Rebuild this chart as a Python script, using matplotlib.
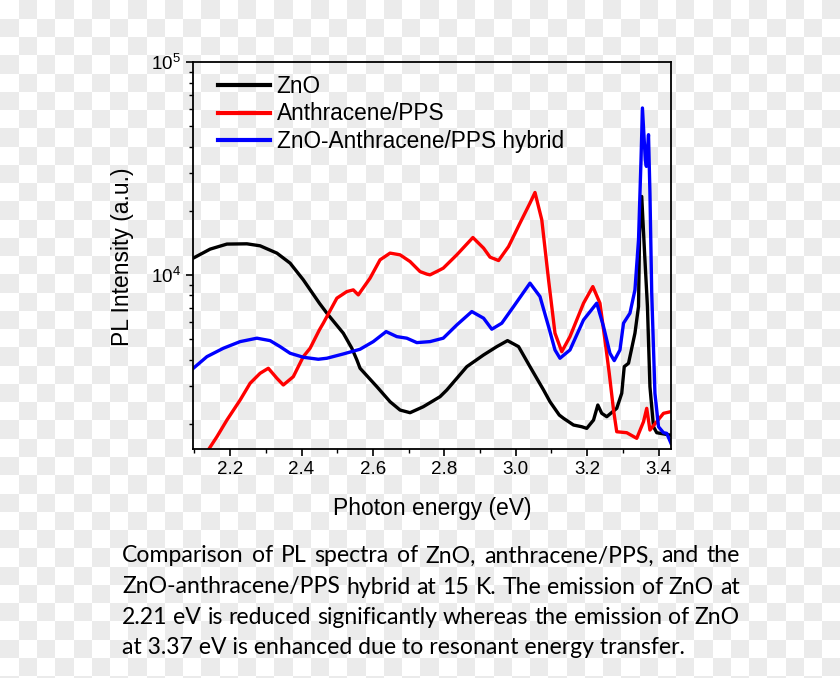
import numpy as np
import matplotlib
matplotlib.use("Agg")
import matplotlib.pyplot as plt
from matplotlib.ticker import LogLocator, MultipleLocator, NullFormatter

# ---------------- data ----------------
zno_e = [2.097, 2.144, 2.191, 2.247, 2.284, 2.331, 2.368, 2.405, 2.450, 2.471,
         2.517, 2.541, 2.555, 2.564, 2.611, 2.648, 2.676, 2.704, 2.741, 2.788,
         2.807, 2.863, 2.910, 2.947, 2.977, 3.008, 3.040, 3.078, 3.096, 3.122,
         3.134, 3.162, 3.185, 3.199, 3.218, 3.230, 3.241, 3.255, 3.283, 3.297,
         3.304, 3.316, 3.334, 3.344, 3.347, 3.353, 3.361, 3.369, 3.376, 3.386,
         3.395, 3.432]
zno_i = [11990, 13210, 13950, 13990, 13690, 12650, 11350, 9475, 7360, 6605,
         5320, 4520, 3985, 3640, 2983, 2535, 2317, 2251, 2401, 2677,
         2878, 3704, 4205, 4600, 4909, 4600, 3704, 2878, 2535, 2195,
         2118, 1970, 1934, 1900, 2079, 2446, 2236, 2156, 2360, 2777,
         3704, 3843, 5320, 7095, 15710, 23350, 12650, 7095, 2983, 1934,
         1813, 1768]

ant_e = [2.124, 2.163, 2.191, 2.228, 2.256, 2.284, 2.307, 2.331, 2.349, 2.377,
         2.405, 2.424, 2.450, 2.461, 2.499, 2.527, 2.545, 2.559, 2.592, 2.620,
         2.648, 2.676, 2.704, 2.732, 2.751, 2.760, 2.788, 2.797, 2.835, 2.880,
         2.910, 2.928, 2.952, 2.980, 3.012, 3.040, 3.054, 3.073, 3.092, 3.110,
         3.129, 3.152, 3.190, 3.216, 3.236, 3.250, 3.262, 3.274, 3.283, 3.311,
         3.339, 3.358, 3.367, 3.376, 3.395, 3.414, 3.434]
ant_i = [1378, 1736, 2079, 2582, 3095, 3448, 3640, 3267, 3038, 3324,
         4128, 4520, 5512, 5928, 7770, 8345, 8500, 8052, 9650, 11765,
         12650, 12420, 11550, 10360, 10080, 10000, 10556, 10750, 12420, 14975,
         13350, 12115, 11675, 13590, 17510, 21740, 24380, 18145, 9475, 5320,
         4357, 5126, 7360, 8810, 7360, 4946, 3448, 2317, 1832, 1813,
         1706, 2042, 2360, 1866, 2042, 2236, 2275]

hyb_e = [2.097, 2.135, 2.181, 2.228, 2.275, 2.312, 2.340, 2.368, 2.405, 2.447,
         2.471, 2.517, 2.564, 2.601, 2.637, 2.667, 2.695, 2.723, 2.760, 2.797,
         2.835, 2.877, 2.910, 2.933, 2.961, 2.994, 3.040, 3.068, 3.092, 3.110,
         3.124, 3.152, 3.190, 3.227, 3.246, 3.264, 3.276, 3.292, 3.302, 3.320,
         3.334, 3.344, 3.351, 3.355, 3.363, 3.366, 3.372, 3.376, 3.381, 3.390,
         3.400, 3.414, 3.423, 3.435]
hyb_i = [3640, 4128, 4520, 4857, 5040, 4909, 4600, 4282, 4101, 4013,
         4057, 4250, 4472, 4857, 5412, 5126, 5040, 4804, 4857, 5040,
         5818, 6722, 6257, 5554, 5928, 7095, 9142, 7906, 5713, 4438,
         4057, 4438, 6143, 7360, 5713, 4282, 3954, 4438, 5928, 6605,
         8500, 14605, 34740, 60800, 34740, 32320, 45550, 24230, 8202, 2777,
         1934, 1813, 1801, 1616]

series_labels = ["ZnO", "Anthracene/PPS", "ZnO-Anthracene/PPS hybrid"]
series_colors = ["#000000", "#ff0000", "#0000ff"]

x_label = "Photon energy (eV)"
y_label = "PL Intensity (a.u.)"
caption_lines = [
    "Comparison of PL spectra of ZnO, anthracene/PPS, and the",
    "ZnO-anthracene/PPS hybrid at 15 K. The emission of ZnO at",
    "2.21 eV is reduced significantly whereas the emission of ZnO",
    "at 3.37 eV is enhanced due to resonant energy transfer.",
]

# ---------------- style ----------------
plt.rcParams["font.family"] = ["Liberation Sans", "DejaVu Sans"]
plt.rcParams["mathtext.fontset"] = "custom"
plt.rcParams["mathtext.rm"] = "Liberation Sans"
plt.rcParams["mathtext.it"] = "Liberation Sans:italic"
plt.rcParams["mathtext.bf"] = "Liberation Sans:bold"

W, H = 840, 678
fig = plt.figure(figsize=(W / 100, H / 100), dpi=100)
fig.patch.set_facecolor("white")

# checkerboard background (as in the reference picture)
sq = W / 46.0
rr = (np.arange(H) // sq).astype(int)
cc = (np.arange(W) // sq).astype(int)
chk = ((rr[:, None] + cc[None, :]) % 2).astype(float)
bg = np.where(chk[..., None] > 0, 0.922, 1.0) * np.ones((1, 1, 3))
fig.figimage(bg, xo=0, yo=0, origin="upper", zorder=-10)

L, R, T, B = 193, 671, 62, 449
ax = fig.add_axes([L / W, 1 - B / H, (R - L) / W, (B - T) / H])
ax.set_facecolor("none")

lines_data = [(zno_e, zno_i), (ant_e, ant_i), (hyb_e, hyb_i)]
for (e, i), lab, col in zip(lines_data, series_labels, series_colors):
    ax.plot(e, i, color=col, lw=2.4, label=lab, solid_joinstyle="round")

ax.set_yscale("log")
ax.set_xlim(2.096, 3.435)
ax.set_ylim(1520, 1e5)
ax.xaxis.set_major_locator(MultipleLocator(0.2))
ax.xaxis.set_minor_locator(MultipleLocator(0.1))
ax.xaxis.set_major_formatter(matplotlib.ticker.FormatStrFormatter("%.1f"))
ax.yaxis.set_major_locator(LogLocator(base=10, numticks=10))
ax.yaxis.set_minor_locator(LogLocator(base=10, subs=np.arange(2, 10), numticks=20))
ax.yaxis.set_minor_formatter(NullFormatter())

for s in ax.spines.values():
    s.set_linewidth(1.3)
ax.tick_params(which="major", direction="out", length=5, width=1.2,
               labelsize=13.5, pad=4, top=False, right=False)
ax.tick_params(which="minor", direction="out", length=3, width=1.0,
               top=False, right=False)

ax.set_xlabel(x_label, fontsize=16.5, va="center")
ax.xaxis.set_label_coords(0.5, -(508 - B) / (B - T))
ax.set_ylabel(y_label, fontsize=16.5, va="center")
ax.yaxis.set_label_coords(-(L - 122) / (R - L), (B - 257) / (B - T))

leg = ax.legend(loc="upper left", bbox_to_anchor=(0.034, 0.99), frameon=False,
                fontsize=16.3, handlelength=2.3, handletextpad=0.28,
                labelspacing=0.2, borderaxespad=0.0)
for h in leg.get_lines():
    h.set_linewidth(3)

# ---------------- caption (justified) ----------------
fig.canvas.draw()
rend = fig.canvas.get_renderer()
cap_font = ["Lato", "DejaVu Sans"]
x0, x1 = 122, 740
ys = [556, 587, 617, 648]

probe = fig.text(0, 0, caption_lines[-1], fontsize=18, family=cap_font)
wlast = probe.get_window_extent(rend).width
probe.remove()
cap_fs = 18 * 561.0 / wlast

for k, (line, yc) in enumerate(zip(caption_lines, ys)):
    yf = 1 - yc / H
    if k == len(caption_lines) - 1:
        fig.text(x0 / W, yf, line, fontsize=cap_fs, family=cap_font, va="center",
                 ha="left", color="#000000")
        continue
    words = line.split(" ")
    objs = [fig.text(0, yf, w_, fontsize=cap_fs, family=cap_font, va="center",
                     ha="left", color="#000000") for w_ in words]
    widths = [o.get_window_extent(rend).width for o in objs]
    gap = ((x1 - x0) - sum(widths)) / (len(words) - 1)
    xp = x0
    for o, wd in zip(objs, widths):
        o.set_x(xp / W)
        xp += wd + gap

fig.savefig("out.png", dpi=100)
